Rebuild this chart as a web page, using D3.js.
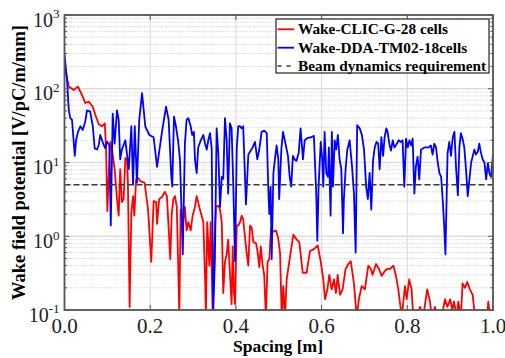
<!DOCTYPE html>
<html>
<head>
<meta charset="utf-8">
<script src="https://cdn.jsdelivr.net/npm/d3@7"></script>
<style>
  body { margin: 0; background: #fff; }
</style>
</head>
<body>
<script>
// x axis ticks
var xTicks = [0, 0.2, 0.4, 0.6, 0.8, 1.0];
var xTickLabels = ["0.0", "0.2", "0.4", "0.6", "0.8", "1.0"];
// y axis decades (10^n)
var yExponents = [-1, 0, 1, 2, 3];

var seriesNames = ["Wake-CLIC-G-28 cells", "Wake-DDA-TM02-18cells", "Beam dynamics requirement"];
var requirement = 5;

// Wake-CLIC-G-28 cells
var redSpacing = [0.000, 0.010, 0.0215, 0.0315, 0.0425, 0.0485, 0.0565, 0.066, 0.072, 0.080, 0.0875, 0.094,
    0.097, 0.100, 0.103, 0.107, 0.111, 0.117, 0.1225, 0.1265, 0.130, 0.134, 0.138, 0.142, 0.146, 0.148,
    0.152, 0.156, 0.160, 0.163, 0.167, 0.1715, 0.177, 0.187, 0.195, 0.2025, 0.208, 0.214, 0.216, 0.221,
    0.2275, 0.234, 0.239, 0.247, 0.250, 0.254, 0.258, 0.262, 0.2655, 0.268, 0.271, 0.276, 0.281, 0.285,
    0.289, 0.2945, 0.299, 0.3045, 0.3085, 0.3145, 0.320, 0.324, 0.328, 0.330, 0.333, 0.338, 0.341, 0.346,
    0.349, 0.3535, 0.359, 0.363, 0.367, 0.3705, 0.3745, 0.3785, 0.382, 0.386, 0.390, 0.3925, 0.3955, 0.398,
    0.402, 0.4055, 0.4095, 0.4135, 0.417, 0.425, 0.429, 0.433, 0.437, 0.4405, 0.447, 0.451, 0.4545, 0.458,
    0.4625, 0.466, 0.470, 0.474, 0.478, 0.482, 0.487, 0.4935, 0.4985, 0.503, 0.507, 0.5105, 0.5145, 0.5185,
    0.5245, 0.534, 0.542, 0.548, 0.556, 0.565, 0.573, 0.582, 0.591, 0.598, 0.604, 0.608, 0.6135, 0.618,
    0.6235, 0.629, 0.6335, 0.6375, 0.643, 0.649, 0.656, 0.6625, 0.668, 0.6755, 0.682, 0.687, 0.6935, 0.701,
    0.709, 0.715, 0.719, 0.727, 0.734, 0.740, 0.748, 0.7535, 0.760, 0.7675, 0.773, 0.779, 0.787, 0.7945,
    0.7985, 0.8045, 0.810, 0.814, 0.822, 0.8255, 0.8295, 0.837, 0.8465, 0.853, 0.857, 0.8645, 0.8685, 0.880,
    0.888, 0.8935, 0.900, 0.905, 0.909, 0.9155, 0.919, 0.925, 0.929, 0.9345, 0.940, 0.946, 0.9525, 0.958,
    0.9865, 0.989, 0.993, 1.000];
var redWake = [200, 107, 96, 107, 78, 64, 67, 57, 44, 33, 31, 34,
    15.5, 2.2, 6.2, 19, 15, 8.1, 3.2, 1.9, 8.1, 2.9, 3.2, 11.5, 10.8, 5.3,
    0.11, 2.1, 3.5, 1.9, 5.9, 6.2, 5.6, 5.3, 2.3, 0.45, 3.0, 2.9, 1.47, 3.2,
    3.4, 4.0, 3.5, 0.49, 1.9, 3.2, 3.5, 2.5, 0.37, 0.08, 2.3, 1.4, 2.5, 1.2,
    1.55, 1.2, 1.9, 2.5, 3.5, 2.5, 1.9, 1.55, 0.28, 0.08, 1.55, 0.4, 1.55, 0.08,
    0.67, 2.5, 2.6, 2.3, 1.55, 0.17, 0.45, 0.57, 0.9, 0.32, 0.12, 0.73, 0.17, 0.12,
    1.4, 1.4, 1.55, 1.9, 1.7, 0.6, 0.4, 1.4, 1.3, 0.84, 0.8, 0.6, 0.38, 0.73,
    0.4, 0.3, 0.08, 0.45, 0.49, 1.26, 1.15, 1.2, 0.95, 0.6, 0.08, 0.21, 0.08, 0.26,
    0.45, 1.05, 0.9, 0.83, 0.32, 0.32, 0.63, 0.67, 0.75, 0.45, 0.26, 0.14, 0.19, 0.3,
    0.19, 0.26, 0.17, 0.3, 0.16, 0.19, 0.36, 0.42, 0.46, 0.23, 0.08, 0.14, 0.21, 0.19,
    0.4, 0.36, 0.3, 0.42, 0.36, 0.29, 0.34, 0.36, 0.36, 0.4, 0.3, 0.19, 0.08, 0.21,
    0.14, 0.26, 0.19, 0.08, 0.1, 0.08, 0.11, 0.08, 0.19, 0.13, 0.08, 0.11, 0.08, 0.08,
    0.14, 0.11, 0.14, 0.1, 0.13, 0.08, 0.13, 0.08, 0.23, 0.2, 0.24, 0.19, 0.16, 0.08,
    0.08, 0.13, 0.08, 0.08];

// Wake-DDA-TM02-18cells
var blueSpacing = [0.000, 0.006, 0.010, 0.0135, 0.0175, 0.024, 0.027, 0.0315, 0.037, 0.0425, 0.0485, 0.0525,
    0.060, 0.066, 0.0705, 0.076, 0.080, 0.0835, 0.0915, 0.095, 0.099, 0.1045, 0.108, 0.1125, 0.117, 0.1225,
    0.1265, 0.130, 0.134, 0.142, 0.150, 0.156, 0.160, 0.164, 0.169, 0.1745, 0.181, 0.1885, 0.198, 0.208,
    0.216, 0.2275, 0.237, 0.243, 0.249, 0.2515, 0.2555, 0.260, 0.265, 0.2695, 0.276, 0.281, 0.285, 0.289,
    0.2945, 0.298, 0.302, 0.3045, 0.3085, 0.312, 0.318, 0.324, 0.328, 0.332, 0.3355, 0.3395, 0.3435, 0.347,
    0.351, 0.355, 0.359, 0.363, 0.367, 0.3705, 0.3745, 0.3785, 0.382, 0.386, 0.390, 0.394, 0.398, 0.402,
    0.4055, 0.4095, 0.4135, 0.417, 0.4235, 0.429, 0.433, 0.439, 0.4445, 0.450, 0.4545, 0.460, 0.466, 0.472,
    0.4755, 0.478, 0.481, 0.4835, 0.4875, 0.491, 0.495, 0.499, 0.501, 0.506, 0.510, 0.514, 0.5175, 0.5215,
    0.5255, 0.529, 0.533, 0.537, 0.541, 0.5465, 0.551, 0.554, 0.5565, 0.5605, 0.568, 0.576, 0.582, 0.5875,
    0.590, 0.593, 0.598, 0.6015, 0.604, 0.607, 0.611, 0.615, 0.617, 0.621, 0.624, 0.6265, 0.6305, 0.634,
    0.638, 0.642, 0.646, 0.650, 0.652, 0.656, 0.660, 0.6655, 0.671, 0.6755, 0.6795, 0.683, 0.689, 0.694,
    0.699, 0.704, 0.708, 0.712, 0.716, 0.720, 0.724, 0.728, 0.732, 0.7355, 0.7395, 0.7435, 0.747, 0.751,
    0.754, 0.758, 0.762, 0.766, 0.770, 0.774, 0.780, 0.785, 0.789, 0.793, 0.797, 0.801, 0.805, 0.809,
    0.8125, 0.8165, 0.820, 0.824, 0.828, 0.832, 0.840, 0.850, 0.855, 0.859, 0.863, 0.867, 0.871, 0.875,
    0.879, 0.883, 0.886, 0.889, 0.892, 0.894, 0.898, 0.902, 0.906, 0.910, 0.914, 0.918, 0.9215, 0.925,
    0.929, 0.933, 0.937, 0.941, 0.945, 0.949, 0.953, 0.9565, 0.960, 0.9645, 0.968, 0.972, 0.976, 0.980,
    0.984, 0.988, 0.9915, 0.9955, 1.000];
var blueWake = [290, 131, 51, 40, 38, 12.3, 20, 26, 31, 27.6, 36, 51,
    49, 31, 15.5, 15, 17.3, 23.6, 17.3, 15.7, 19.2, 17.3, 1.4, 46, 18, 51,
    38, 11, 15, 20, 8.1, 31, 5.0, 31, 5.3, 38, 87, 31, 23.6, 22,
    8.7, 26, 57, 38, 6.9, 4.7, 42, 31, 20, 11, 0.57, 18, 38, 40,
    31, 23.6, 26, 11, 7.2, 16, 20, 23.6, 18, 15, 20, 25, 15.5, 0.09,
    0.49, 29, 13.4, 2.5, 6.4, 6.0, 40, 20, 3.8, 34, 29, 4.7, 0.46, 16,
    31, 31, 29, 31, 2.7, 12.8, 14, 16, 19, 11, 15, 26, 27, 25,
    4.7, 2.0, 4.7, 0.49, 7.2, 11, 17, 11, 3.2, 15, 26, 20, 16, 12.3,
    6.4, 4.7, 12.3, 11, 10.5, 13.4, 29, 17, 11, 20, 21.6, 22, 23, 3.8,
    0.87, 4.7, 19, 11, 4.7, 26, 7.2, 6.4, 16, 1.9, 26, 4.7, 20, 15,
    23.6, 11, 8.1, 1.1, 3.2, 8.1, 15, 20, 8.8, 3.8, 0.6, 32, 29, 23.6,
    15, 4.7, 3.2, 7.2, 2.3, 10.5, 16, 19, 18, 8.1, 22, 12.3, 22, 29,
    26, 18, 14.5, 20, 16, 17.3, 20, 19, 20, 4.7, 21, 16, 20, 17,
    21, 3.8, 8.8, 12, 5.9, 15, 16, 16, 17, 12.8, 18, 16, 10, 7.2,
    6.4, 2.9, 1.4, 0.57, 3.8, 13.4, 19, 12.3, 22, 26, 8.1, 3.6, 16, 25,
    21, 16, 8.1, 3.5, 5.9, 10, 12.3, 15, 12.8, 14, 18, 13.4, 11, 10,
    5.9, 9.8, 7.2, 6.4, 12.8];

var serif = "Liberation Serif";

function init() {
    var width = 505;
    var height = 358;
    var left = 64.5, top = 15, right = 493, bottom = 310;

    var svg = d3.select("body").append("svg")
        .attr("width", width)
        .attr("height", height)
        .style("display", "block");

    svg.append("rect").attr("width", width).attr("height", height).attr("fill", "#fff");

    var x = d3.scaleLinear().domain([0, 1]).range([left, right]);
    var y = d3.scaleLog().domain([0.1, 1000]).range([bottom, top]);

    svg.append("defs").append("clipPath").attr("id", "plotClip")
        .append("rect")
        .attr("x", left).attr("y", top)
        .attr("width", right - left).attr("height", bottom - top);

    // minor y values: 2..9 x 10^n
    var minorY = [];
    yExponents.slice(0, -1).forEach(function (e) {
        for (var k = 2; k <= 9; k++) minorY.push(k * Math.pow(10, e));
    });
    var majorY = yExponents.map(function (e) { return Math.pow(10, e); });

    var grid = svg.append("g");
    grid.selectAll(".minor").data(minorY).enter().append("line")
        .attr("x1", left).attr("x2", right)
        .attr("y1", function (d) { return y(d); }).attr("y2", function (d) { return y(d); })
        .attr("stroke", "#c4c4c4").attr("stroke-width", 0.8)
        .attr("stroke-dasharray", "1,1.2");
    grid.selectAll(".majorY").data(majorY).enter().append("line")
        .attr("x1", left).attr("x2", right)
        .attr("y1", function (d) { return y(d); }).attr("y2", function (d) { return y(d); })
        .attr("stroke", "#dedede").attr("stroke-width", 1.6);
    grid.selectAll(".majorX").data(xTicks).enter().append("line")
        .attr("x1", function (d) { return x(d); }).attr("x2", function (d) { return x(d); })
        .attr("y1", top).attr("y2", bottom)
        .attr("stroke", "#dedede").attr("stroke-width", 1.2);

    var line = d3.line()
        .x(function (d) { return x(d[0]); })
        .y(function (d) { return y(d[1]); });

    var plot = svg.append("g").attr("clip-path", "url(#plotClip)");

    plot.append("path")
        .datum(redSpacing.map(function (s, i) { return [s, redWake[i]]; }))
        .attr("d", line)
        .attr("fill", "none").attr("stroke", "#ff0000").attr("stroke-width", 1.8)
        .attr("stroke-linejoin", "round");

    plot.append("path")
        .datum(blueSpacing.map(function (s, i) { return [s, blueWake[i]]; }))
        .attr("d", line)
        .attr("fill", "none").attr("stroke", "#0000ff").attr("stroke-width", 1.8)
        .attr("stroke-linejoin", "round");

    plot.append("line")
        .attr("x1", x(0)).attr("x2", x(1))
        .attr("y1", y(requirement)).attr("y2", y(requirement))
        .attr("stroke", "#3a3a3a").attr("stroke-width", 1.5)
        .attr("stroke-dasharray", "6,3");

    // ticks (inward, all four sides)
    var axisColor = "#555";
    var ticks = svg.append("g").attr("stroke", axisColor);
    xTicks.forEach(function (t) {
        ticks.append("line").attr("x1", x(t)).attr("x2", x(t)).attr("y1", bottom).attr("y2", bottom - 5);
        ticks.append("line").attr("x1", x(t)).attr("x2", x(t)).attr("y1", top).attr("y2", top + 5);
    });
    majorY.forEach(function (t) {
        ticks.append("line").attr("x1", left).attr("x2", left + 5).attr("y1", y(t)).attr("y2", y(t));
        ticks.append("line").attr("x1", right).attr("x2", right - 5).attr("y1", y(t)).attr("y2", y(t));
    });
    minorY.forEach(function (t) {
        ticks.append("line").attr("x1", left).attr("x2", left + 2.5).attr("y1", y(t)).attr("y2", y(t));
        ticks.append("line").attr("x1", right).attr("x2", right - 2.5).attr("y1", y(t)).attr("y2", y(t));
    });

    svg.append("rect")
        .attr("x", left).attr("y", top)
        .attr("width", right - left).attr("height", bottom - top)
        .attr("fill", "none").attr("stroke", axisColor).attr("stroke-width", 1.8);

    // x tick labels
    svg.selectAll(".xlab").data(xTicks).enter().append("text")
        .attr("x", function (d) { return x(d); })
        .attr("y", 333)
        .attr("text-anchor", "middle")
        .attr("font-family", serif)
        .attr("font-size", 21)
        .attr("fill", "#222")
        .text(function (d, i) { return xTickLabels[i]; });

    // y tick labels 10^n
    yExponents.forEach(function (e) {
        var t = svg.append("text")
            .attr("x", 59.5)
            .attr("y", y(Math.pow(10, e)) + 11.7)
            .attr("text-anchor", "end")
            .attr("font-family", serif)
            .attr("font-size", 20)
            .attr("fill", "#222");
        t.append("tspan").text("10");
        t.append("tspan").attr("dy", -8.4).attr("font-size", 13).text(String(e));
    });

    // axis titles
    svg.append("text")
        .attr("x", 278).attr("y", 352)
        .attr("text-anchor", "middle")
        .attr("font-family", serif)
        .attr("font-size", 17.5).attr("font-weight", "bold")
        .text("Spacing [m]");

    svg.append("text")
        .attr("transform", "translate(25," + 162.5 + ") rotate(-90)")
        .attr("text-anchor", "middle")
        .attr("font-family", serif)
        .attr("font-size", 18.5).attr("font-weight", "bold")
        .text("Wake field potential [V/pC/m/mm]");

    // legend
    var legend = svg.append("g");
    legend.append("rect")
        .attr("x", 276).attr("y", 19).attr("width", 213).attr("height", 54)
        .attr("fill", "#fff").attr("stroke", "#222").attr("stroke-width", 1.2);

    var legendColors = ["#ff0000", "#0000ff", "#3a3a3a"];
    var legendDash = [null, null, "4,5"];
    var rowY = [29.3, 47.7, 66];
    seriesNames.forEach(function (name, i) {
        legend.append("line")
            .attr("x1", 277.5).attr("x2", 294).attr("y1", rowY[i]).attr("y2", rowY[i])
            .attr("stroke", legendColors[i]).attr("stroke-width", i < 2 ? 1.8 : 1.3)
            .attr("stroke-dasharray", legendDash[i]);
        legend.append("text")
            .attr("x", 298).attr("y", rowY[i] + 5)
            .attr("font-family", serif)
            .attr("font-size", 15.3).attr("font-weight", "bold")
            .text(name);
    });
}

window.onload = init;
</script>
</body>
</html>
